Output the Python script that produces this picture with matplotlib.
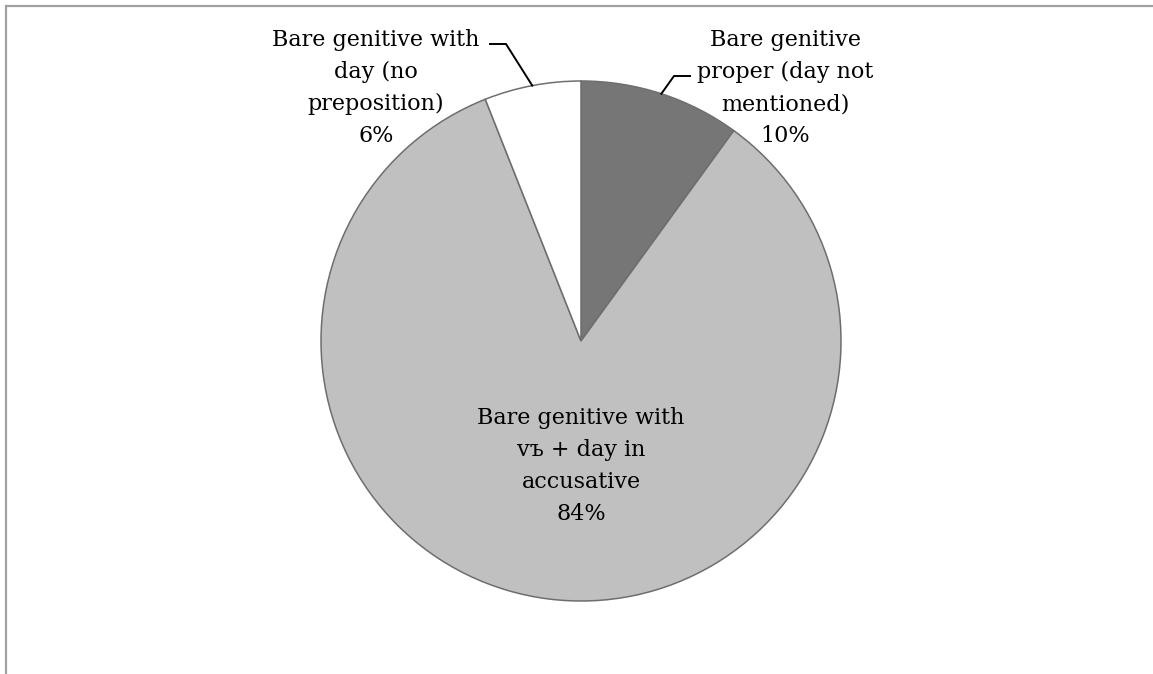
import numpy as np
import matplotlib
matplotlib.use("Agg")
import matplotlib.pyplot as plt

# Shares of bare genitive constructions
categories = [
    "Bare genitive\nproper (day not\nmentioned)",
    "Bare genitive with\nvъ + day in\naccusative",
    "Bare genitive with\nday (no\npreposition)",
]
shares = [10, 84, 6]
colors = ["#767676", "#c0c0c0", "#ffffff"]

W, H = 1153, 674
fig = plt.figure(figsize=(W / 100, H / 100), dpi=100)
ax = fig.add_axes([0, 0, 1, 1])

cx, cy, R = 581, H - 341, 260
wedges, _ = ax.pie(
    shares,
    colors=colors,
    startangle=90,
    counterclock=False,
    center=(cx, cy),
    radius=R,
    wedgeprops=dict(edgecolor="#6e6e6e", linewidth=1.1),
)
ax.set_xlim(0, W)
ax.set_ylim(0, H)
ax.set_aspect("equal")
ax.axis("off")

# outer frame (only the top and left edges fall inside the canvas)
ax.plot([5.5, 5.5, W + 5], [-5, H - 5.5, H - 5.5], color="#a0a0a0", lw=1.6,
        solid_joinstyle="miter", clip_on=False)

font = dict(family="DejaVu Serif", fontsize=16, color="black",
            ha="center", va="baseline", linespacing=1.58)

labels = [f"{c}\n{s}%" for c, s in zip(categories, shares)]

# label anchor (baseline of the last line) for each slice
anchors = [(785, H - 142), (581, H - 520), (376, H - 142)]
for lab, (x, y) in zip(labels, anchors):
    ax.text(x, y, lab, **font)

# leader lines from the rim of the two small slices
elbows = {0: [(674, H - 76), (690, H - 76)], 2: [(506, H - 44), (490, H - 44)]}
for i, pts in elbows.items():
    w = wedges[i]
    mid = np.deg2rad((w.theta1 + w.theta2) / 2)
    sx, sy = cx + R * np.cos(mid), cy + R * np.sin(mid)
    xs = [sx] + [p[0] for p in pts]
    ys = [sy] + [p[1] for p in pts]
    ax.plot(xs, ys, color="black", lw=1.4, solid_joinstyle="miter")

fig.savefig("out.png", dpi=100, facecolor="white")
